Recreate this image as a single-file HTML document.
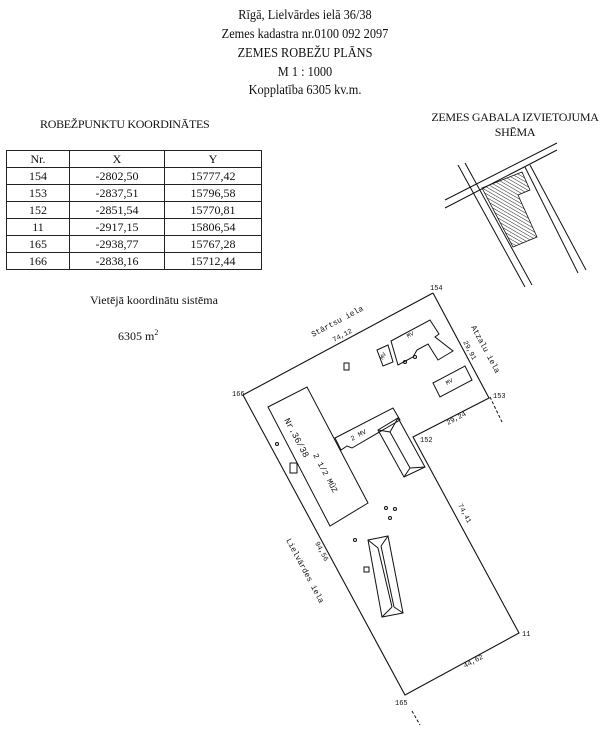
<!DOCTYPE html>
<html><head><meta charset="utf-8"><style>
body{margin:0;background:#fff;width:600px;height:750px;overflow:hidden;font-family:"Liberation Serif",serif;color:#111}
.h{position:absolute;left:0;width:610px;text-align:center;font-size:14px;transform:scaleX(0.88);}
table{position:absolute;left:6px;top:150px;border-collapse:collapse;font-size:12px;}
td{border:1.3px solid #222;height:16px;text-align:center;padding:0;line-height:16px}
</style></head><body>
<div class="h" style="top:8px">Rīgā, Lielvārdes ielā 36/38</div>
<div class="h" style="top:27px">Zemes kadastra nr.0100 092 2097</div>
<div class="h" style="top:46px">ZEMES ROBEŽU PLĀNS</div>
<div class="h" style="top:65px">M 1 : 1000</div>
<div class="h" style="top:83px">Kopplatība 6305 kv.m.</div>
<div style="position:absolute;left:40px;top:117px;font-size:12px;letter-spacing:-0.3px">ROBEŽPUNKTU KOORDINĀTES</div>
<div style="position:absolute;left:420px;top:110px;font-size:12px;width:190px;text-align:center;letter-spacing:-0.3px">ZEMES GABALA IZVIETOJUMA<br>SHĒMA</div>
<table>
<tr><td style="width:62px">Nr.</td><td style="width:94px">X</td><td style="width:96px">Y</td></tr>
<tr><td>154</td><td>-2802,50</td><td>15777,42</td></tr>
<tr><td>153</td><td>-2837,51</td><td>15796,58</td></tr>
<tr><td>152</td><td>-2851,54</td><td>15770,81</td></tr>
<tr><td>11</td><td>-2917,15</td><td>15806,54</td></tr>
<tr><td>165</td><td>-2938,77</td><td>15767,28</td></tr>
<tr><td>166</td><td>-2838,16</td><td>15712,44</td></tr>
</table>
<div style="position:absolute;left:90px;top:293px;font-size:12px">Vietējā koordinātu sistēma</div>
<div style="position:absolute;left:118px;top:328px;font-size:12px">6305 m<sup style="font-size:8px">2</sup></div>
<svg width="600" height="750" style="position:absolute;left:0;top:0" fill="none" stroke="#111" stroke-width="1">
<defs><pattern id="hp" width="3" height="3" patternUnits="userSpaceOnUse" patternTransform="rotate(-60)"><line x1="0" y1="0" x2="0" y2="3" stroke="#222" stroke-width="1"/></pattern></defs>
<!-- schema -->
<line x1="445" y1="200" x2="557" y2="143"/><line x1="445" y1="208" x2="557" y2="150"/>
<line x1="458" y1="165" x2="525" y2="287"/><line x1="465" y1="163" x2="532" y2="285"/>
<line x1="525" y1="167" x2="578" y2="273"/><line x1="530" y1="165" x2="586" y2="270"/>
<polygon points="482,188 522,172 530,190 518,195 537,237 513,247" fill="url(#hp)" stroke-width="0.8"/>
<!-- parcel -->
<polyline points="433,293 489,398 413,437 519,633 405,695 243,395 433,293" stroke-width="1.1"/>
<line x1="490" y1="397" x2="502" y2="422" stroke-dasharray="3,2"/>
<line x1="412" y1="711" x2="420" y2="725" stroke-dasharray="3,2"/>
<!-- buildings -->
<polygon points="268,407 307,387 368,503 330,526"/>
<polygon points="335,438 393,408 400,420 352,448 347,446 341,450"/>
<polygon points="378,430 398,418 425,467 404,477"/>
<line x1="390" y1="432" x2="398" y2="418"/><line x1="390" y1="432" x2="378" y2="430"/><line x1="390" y1="432" x2="410" y2="468"/><line x1="410" y1="468" x2="425" y2="467"/><line x1="410" y1="468" x2="404" y2="477"/>
<polygon points="368,540 388,536 403,613 382,617"/>
<line x1="368" y1="540" x2="378" y2="548"/><line x1="388" y1="536" x2="381" y2="546"/><line x1="378" y1="548" x2="392" y2="607"/><line x1="381" y1="546" x2="394" y2="607"/><line x1="392" y1="607" x2="382" y2="617"/><line x1="394" y1="607" x2="403" y2="613"/>
<rect x="364" y="567" width="5" height="5"/>
<polygon points="391,341 430,320 439,334 435,337 453,351 438,360 428,344 417,350 413,357 398,365"/>
<polygon points="377,350 388,345 393,362 383,366"/>
<polygon points="433,383 465,366 472,380 440,397"/>
<rect x="290" y="463" width="7" height="10"/>
<rect x="344" y="363" width="5" height="7"/>
<g fill="none"><circle cx="277" cy="444" r="1.5"/><circle cx="415" cy="357" r="1.5"/><circle cx="405" cy="362" r="1.5"/><circle cx="386" cy="508" r="1.5"/><circle cx="395" cy="509" r="1.5"/><circle cx="390" cy="518" r="1.5"/><circle cx="355" cy="540" r="1.5"/></g>
<g fill="#111" stroke="none" font-family="Liberation Mono,monospace" font-size="7">
<text x="430" y="290">154</text><text x="232" y="396">166</text><text x="493" y="398">153</text><text x="420" y="442">152</text><text x="522" y="636">11</text><text x="395" y="705">165</text>
<text x="313" y="337" font-size="8" transform="rotate(-28 313 337)">Stārtsu iela</text>
<text x="334" y="342" transform="rotate(-28 334 342)">74,12</text>
<text x="471" y="327" font-size="8" transform="rotate(62 471 327)">Atzalu iela</text>
<text x="463" y="342" transform="rotate(62 463 342)">29,91</text>
<text x="448" y="425" transform="rotate(-28 448 425)">29,24</text>
<text x="458" y="505" transform="rotate(62 458 505)">74,41</text>
<text x="465" y="668" transform="rotate(-28 465 668)">44,62</text>
<text x="315" y="543" transform="rotate(62 315 543)">94,56</text>
<text x="286" y="540" font-size="8" transform="rotate(62 286 540)">Lielvārdes iela</text>
<text x="284" y="420" font-size="9" transform="rotate(62 284 420)">Nr.36/38</text>
<text x="313" y="455" font-size="8" transform="rotate(62 313 455)">2 1/2 MŪZ</text>
<text x="352" y="441" font-size="7" transform="rotate(-28 352 441)">2 MV</text>
<text x="408" y="338" font-size="6" transform="rotate(-28 408 338)">MV</text>
<text x="383" y="360" font-size="6" transform="rotate(-62 383 360)">MV</text>
<text x="447" y="385" font-size="6" transform="rotate(-28 447 385)">MV</text>
</g>
</svg>
</body></html>
